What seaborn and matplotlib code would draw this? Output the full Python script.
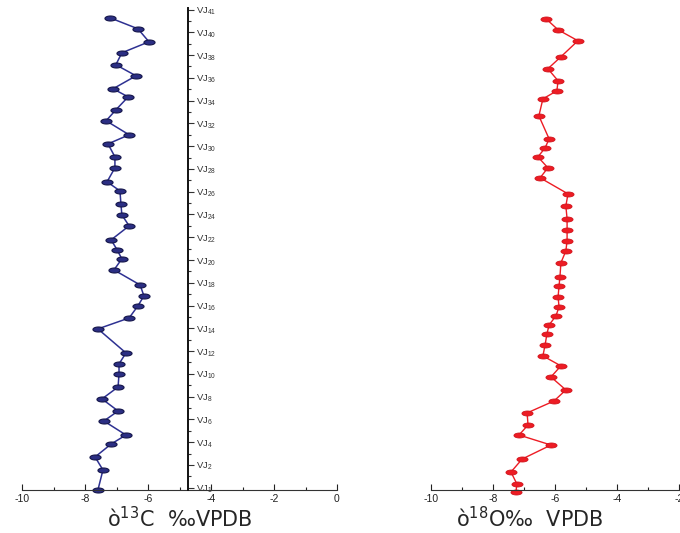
import numpy as np
import pandas as pd
import matplotlib
matplotlib.use("Agg")
import matplotlib.pyplot as plt
from matplotlib.path import Path
from matplotlib.ticker import MultipleLocator, FixedLocator
import seaborn as sns

# stratigraphic position of each sample (VJ1 = 0 at the base, ~2 units per labelled step)
height_c = [41.48, 40.51, 39.37, 38.40, 37.35, 36.38, 35.24, 34.53, 33.39, 32.43,
            31.20, 30.40, 29.26, 28.30, 27.07, 26.27, 25.13, 24.17, 23.20, 21.97,
            21.09, 20.30, 19.33, 18.01, 17.05, 16.17, 15.11, 14.15, 12.04, 11.07,
            10.19, 9.05, 8.00, 6.94, 6.06, 4.83, 4.04, 2.90, 1.76, 0.00]
d13c = [-7.21, -6.32, -5.97, -6.83, -7.02, -6.38, -7.11, -6.63, -7.02, -7.33,
        -6.60, -7.27, -7.05, -7.05, -7.30, -6.89, -6.86, -6.83, -6.60, -7.17,
        -6.98, -6.83, -7.08, -6.25, -6.13, -6.32, -6.60, -7.59, -6.70, -6.92,
        -6.92, -6.95, -7.46, -6.95, -7.40, -6.70, -7.17, -7.68, -7.43, -7.59]

height_o = [41.39, 40.42, 39.46, 38.05, 37.00, 35.94, 35.06, 34.36, 32.86, 30.84,
            30.05, 29.26, 28.30, 27.42, 26.01, 24.96, 23.81, 22.85, 21.88, 21.00,
            19.95, 18.72, 17.93, 16.96, 16.08, 15.29, 14.50, 13.71, 12.74, 11.78,
            10.90, 9.93, 8.79, 7.82, 6.77, 5.71, 4.83, 3.95, 2.72, 1.58, 0.53, -0.18]
d18o = [-6.29, -5.90, -5.26, -5.81, -6.23, -5.90, -5.94, -6.39, -6.52, -6.19,
        -6.32, -6.55, -6.23, -6.48, -5.58, -5.65, -5.61, -5.61, -5.61, -5.65,
        -5.81, -5.84, -5.87, -5.90, -5.87, -5.97, -6.19, -6.26, -6.32, -6.39,
        -5.81, -6.13, -5.65, -6.03, -6.90, -6.87, -7.16, -6.13, -7.06, -7.42,
        -7.23, -7.26]

vj_numbers = [1, 2, 4, 6, 8, 10, 12, 14, 16, 18, 20, 22, 24, 26, 28, 30, 32, 34, 36, 38, 40, 41]
c_ticks = [-10, -8, -6, -4, -2, 0]
o_ticks = [-10, -8, -6, -4, -2]

df_c = pd.DataFrame({"h": height_c, "v": d13c})
df_o = pd.DataFrame({"h": height_o, "v": d18o})

sns.set_style("white")
plt.rcParams["font.family"] = ["Liberation Sans", "DejaVu Sans"]
plt.rcParams["axes.unicode_minus"] = False

# flat ellipse marker
t = np.linspace(0, 2 * np.pi, 41)
ellipse = Path(np.column_stack([np.cos(t), 0.45 * np.sin(t)]), closed=True)

fig = plt.figure(figsize=(6.8, 5.33), dpi=100)
bottom, height = 43 / 533, 485 / 533
YLIM = (0, 42.6)

ax1 = fig.add_axes([22 / 680, bottom, 315 / 680, height])
ax2 = fig.add_axes([431 / 680, bottom, 310 / 680, height])

sns.lineplot(data=df_c, x="v", y="h", sort=False, estimator=None, ax=ax1,
             color="#2E3192", linewidth=1.1, marker=ellipse, markersize=8,
             markerfacecolor="#2B2E83", markeredgecolor="#15164a",
             markeredgewidth=0.8, clip_on=False)
sns.lineplot(data=df_o, x="v", y="h", sort=False, estimator=None, ax=ax2,
             color="#ED1C24", linewidth=1.0, marker=ellipse, markersize=8,
             markerfacecolor="#ED1C24", markeredgecolor="#d0141c",
             markeredgewidth=0.6, clip_on=False)

for ax, ticks in [(ax1, c_ticks), (ax2, o_ticks)]:
    ax.set_xlim(-10, 0)
    ax.set_ylim(*YLIM)
    ax.patch.set_visible(False)
    for s in ["left", "right", "top"]:
        ax.spines[s].set_visible(False)
    ax.spines["bottom"].set_linewidth(0.8)
    ax.spines["bottom"].set_color("#333333")
    ax.set_yticks([])
    ax.set_ylabel("")
    ax.set_xticks(ticks)
    ax.xaxis.set_minor_locator(MultipleLocator(1))
    ax.tick_params(axis="x", which="major", direction="in", length=4, width=0.8,
                   labelsize=7.5, pad=3, bottom=True, colors="#222222")
    ax.tick_params(axis="x", which="minor", direction="in", length=2, width=0.8,
                   bottom=True, color="#222222")

label_font = dict(fontsize=15, family=["DejaVu Sans"], va="center")
ax1.set_xlabel("ò$^{13}$C  ‰VPDB", **label_font)
ax2.set_xlabel("ò$^{18}$O‰  VPDB", **label_font)
ax1.xaxis.set_label_coords(0.5, -0.058)
ax2.xaxis.set_label_coords(0.32, -0.058)

# sample label axis in the middle of the left panel
axv = fig.add_axes([188 / 680, bottom, 1e-4, height])
axv.set_ylim(*YLIM)
axv.patch.set_visible(False)
for s in ["left", "top", "bottom"]:
    axv.spines[s].set_visible(False)
axv.spines["right"].set_linewidth(1.4)
axv.spines["right"].set_color("#111111")
axv.spines["right"].set_bounds(0, 42.35)
axv.set_xticks([])
axv.yaxis.tick_right()
vj_pos = [0.2 + 2 * i for i in range(len(vj_numbers))]
axv.set_yticks(vj_pos)
axv.set_yticklabels([r"VJ$_{\mathregular{%d}}$" % n for n in vj_numbers])
axv.yaxis.set_minor_locator(FixedLocator([p + 1 for p in vj_pos[:-1]]))
axv.tick_params(axis="y", which="major", direction="out", length=4, width=0.8,
                labelsize=6.8, pad=2, colors="#333333")
axv.tick_params(axis="y", which="minor", direction="out", length=2.5, width=0.8,
                color="#333333")

fig.savefig("out.png", dpi=100)
